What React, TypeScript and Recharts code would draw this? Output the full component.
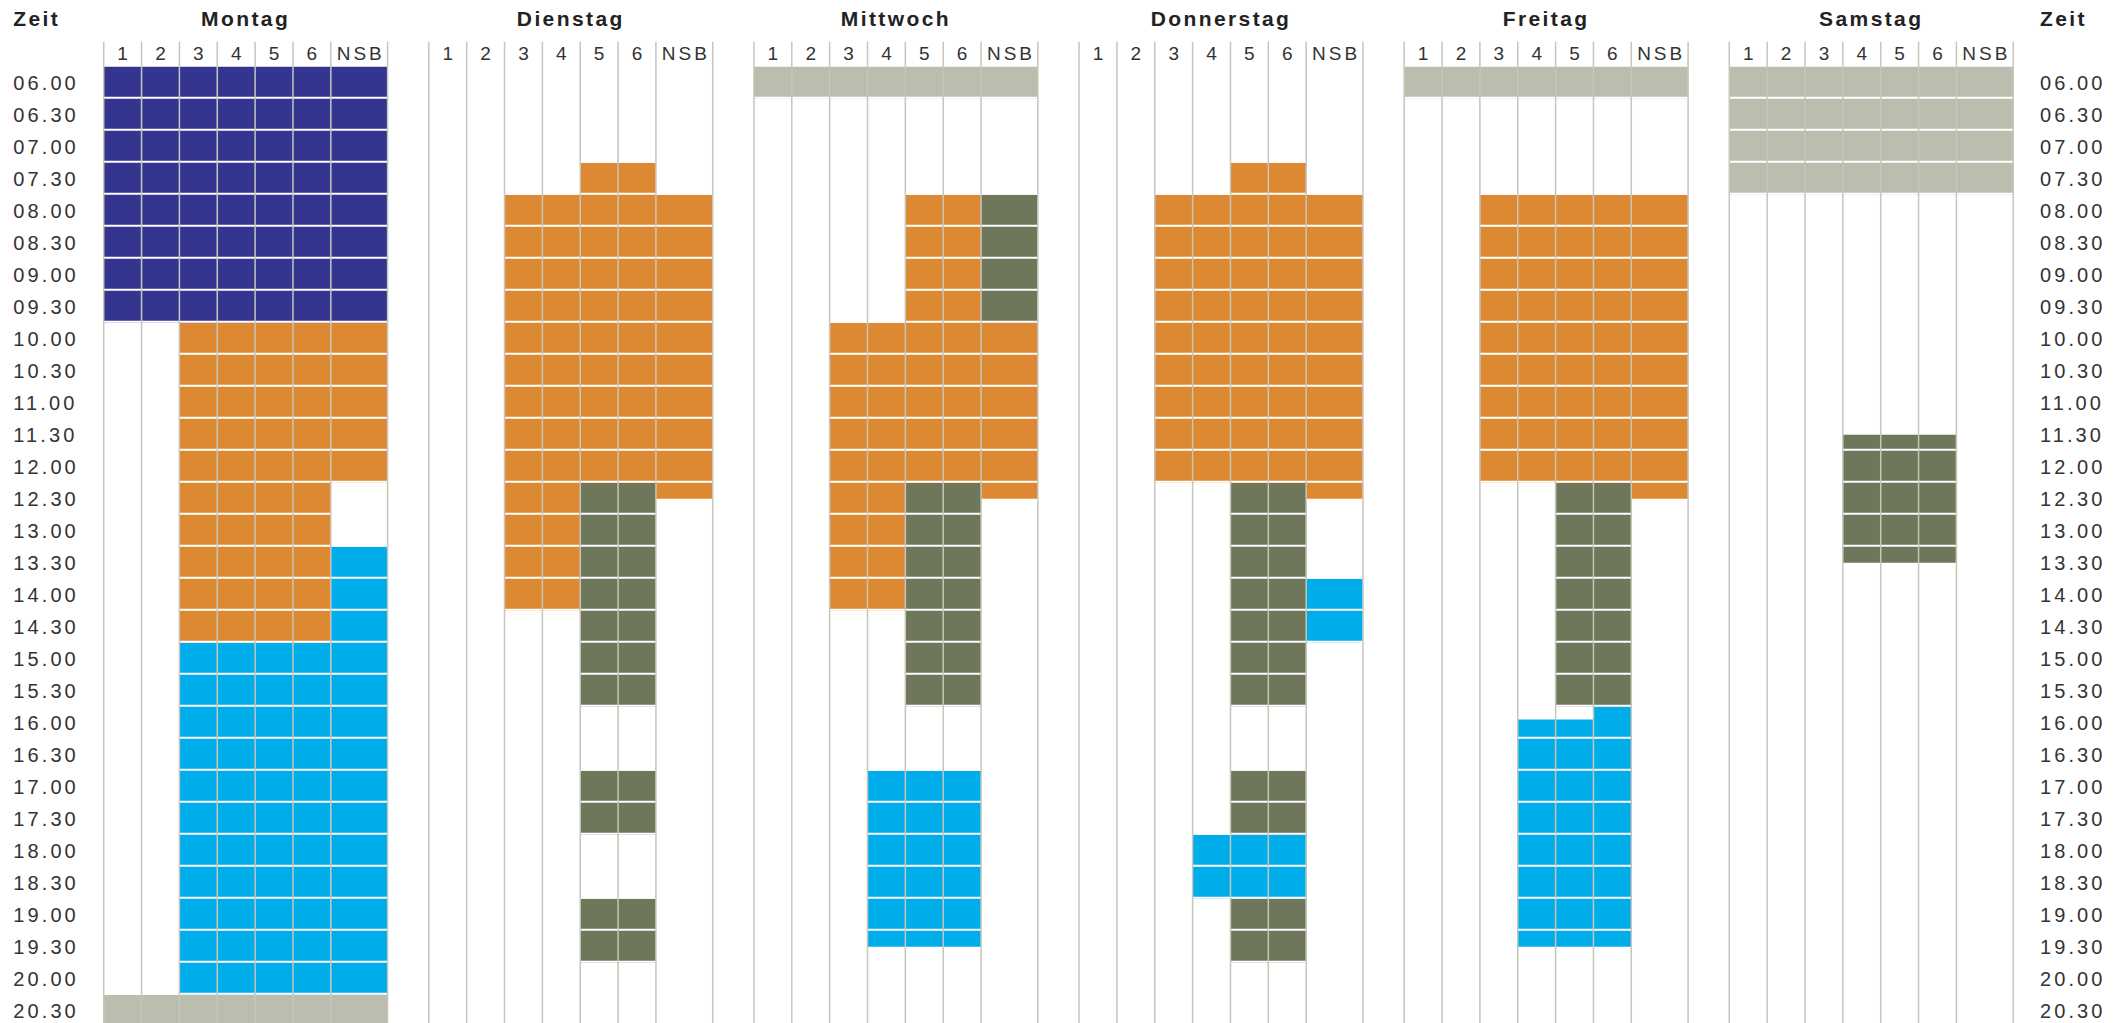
import React from 'react';
import { ComposedChart, XAxis, YAxis, ReferenceArea, ReferenceLine } from 'recharts';

// ---------- data ----------
const days = ['Montag', 'Dienstag', 'Mittwoch', 'Donnerstag', 'Freitag', 'Samstag'];
const columns = ['1', '2', '3', '4', '5', '6', 'NSB'];
const timeLabels = [
  '06.00', '06.30', '07.00', '07.30', '08.00', '08.30', '09.00', '09.30', '10.00', '10.30',
  '11.00', '11.30', '12.00', '12.30', '13.00', '13.30', '14.00', '14.30', '15.00', '15.30',
  '16.00', '16.30', '17.00', '17.30', '18.00', '18.30', '19.00', '19.30', '20.00', '20.30',
];
const axisTitle = 'Zeit';

type Kind = 'navy' | 'orange' | 'green' | 'cyan' | 'grey';
// [first column index, last column index, start hour, end hour, kind]
type Block = [number, number, number, number, Kind];

const montag: Block[] = [
  [0, 6, 6, 10, 'navy'],
  [2, 5, 10, 15, 'orange'],
  [6, 6, 10, 12.5, 'orange'],
  [6, 6, 13.5, 20.5, 'cyan'],
  [2, 5, 15, 20.5, 'cyan'],
  [0, 6, 20.5, 21, 'grey'],
];
const dienstag: Block[] = [
  [4, 5, 7.5, 12.5, 'orange'],
  [2, 3, 8, 14.5, 'orange'],
  [6, 6, 8, 12.75, 'orange'],
  [4, 5, 12.5, 16, 'green'],
  [4, 5, 17, 18, 'green'],
  [4, 5, 19, 20, 'green'],
];
const mittwoch: Block[] = [
  [0, 6, 6, 6.5, 'grey'],
  [4, 5, 8, 12.5, 'orange'],
  [6, 6, 8, 10, 'green'],
  [2, 3, 10, 14.5, 'orange'],
  [6, 6, 10, 12.75, 'orange'],
  [4, 5, 12.5, 16, 'green'],
  [3, 5, 17, 19.75, 'cyan'],
];
const donnerstag: Block[] = [
  [4, 5, 7.5, 12.5, 'orange'],
  [2, 3, 8, 12.5, 'orange'],
  [6, 6, 8, 12.75, 'orange'],
  [4, 5, 12.5, 16, 'green'],
  [6, 6, 14, 15, 'cyan'],
  [4, 5, 17, 18, 'green'],
  [3, 5, 18, 19, 'cyan'],
  [4, 5, 19, 20, 'green'],
];
const freitag: Block[] = [
  [0, 6, 6, 6.5, 'grey'],
  [2, 5, 8, 12.5, 'orange'],
  [6, 6, 8, 12.75, 'orange'],
  [4, 5, 12.5, 16, 'green'],
  [5, 5, 16, 19.75, 'cyan'],
  [3, 4, 16.2, 19.75, 'cyan'],
];
const samstag: Block[] = [
  [0, 6, 6, 8, 'grey'],
  [3, 5, 11.75, 13.75, 'green'],
];
const schedule: Block[][] = [montag, dienstag, mittwoch, donnerstag, freitag, samstag];

// ---------- style / layout ----------
const palette: Record<Kind, string> = {
  navy: '#34358F',
  orange: '#DD8832',
  green: '#6E7759',
  cyan: '#00ADEB',
  grey: '#BBBDAF',
};
const GRID = '#C6C6BB';
const FONT = '"Liberation Sans", Arial, Helvetica, sans-serif';

const W = 2123;
const H = 1030;
const LEFT_W = 103.7;
const RIGHT_W = 109.8;
const TOP_H = 41.7;
const BOTTOM_M = 3.3;

const COL_W = 1;
const NSB_W = 1.5;
const DAY_GAP = 1.089;
const colWidths = columns.map((c) => (c === 'NSB' ? NSB_W : COL_W));
const colEdges = colWidths.reduce<number[]>((acc, w) => [...acc, acc[acc.length - 1] + w], [0]);
const DAY_W = colEdges[colEdges.length - 1];
const DAY_STEP = DAY_W + DAY_GAP;
const X_MAX = DAY_STEP * (days.length - 1) + DAY_W;
const dayStart = (d: number) => d * DAY_STEP;

const toHours = (s: string) => {
  const [h, m] = s.split('.').map(Number);
  return h + m / 60;
};
const slots = timeLabels.map(toHours);
const SLOT = 0.5;
const Y_TOP = slots[0];
const Y_MAX = slots[slots.length - 1] + SLOT;
const HEADER_HOURS = 0.39; // header band above first row
const Y_MIN = Y_TOP - HEADER_HOURS;
const GAP_H = 1 / 64;

const slotCenters = slots.map((s) => s + SLOT / 2);
const dayCenters = days.map((_, d) => dayStart(d) + DAY_W / 2);
const colCenters: number[] = [];
const colLabelList: string[] = [];
days.forEach((_, d) => {
  columns.forEach((c, i) => {
    colCenters.push(dayStart(d) + (colEdges[i] + colEdges[i + 1]) / 2);
    colLabelList.push(c);
  });
});
const vLines: number[] = [];
days.forEach((_, d) => colEdges.forEach((e) => vLines.push(dayStart(d) + e)));
const hGaps = slots.slice(1).concat([Y_MAX]);

const rows = timeLabels.map((label, i) => ({ label, x: colCenters[i % colCenters.length], t: slotCenters[i] }));

// ---------- ticks ----------
const DayTick = (p: any) => {
  const i = dayCenters.indexOf(p.payload?.value);
  return (
    <text x={p.x} y={p.y - 16} textAnchor="middle" fontFamily={FONT} fontSize={21} fontWeight={700}
      letterSpacing={2.4} fill="#222">
      {days[i]}
    </text>
  );
};
const ColTick = (p: any) => {
  const i = colCenters.indexOf(p.payload?.value);
  return (
    <text x={p.x + 1.5} y={p.y + 18.5} textAnchor="middle" fontFamily={FONT} fontSize={19}
      letterSpacing={3} fill="#333">
      {colLabelList[i]}
    </text>
  );
};
const LeftTimeTick = (p: any) => {
  const i = slotCenters.indexOf(p.payload?.value);
  return (
    <text x={p.x - 90.4} y={p.y + 7} textAnchor="start" fontFamily={FONT} fontSize={20}
      letterSpacing={3.1} fill="#333">
      {timeLabels[i]}
    </text>
  );
};
const RightTimeTick = (p: any) => {
  const i = slotCenters.indexOf(p.payload?.value);
  return (
    <text x={p.x + 26.8} y={p.y + 7} textAnchor="start" fontFamily={FONT} fontSize={20}
      letterSpacing={3.1} fill="#333">
      {timeLabels[i]}
    </text>
  );
};
const ZeitLabel = (side: 'left' | 'right') => (p: any) => {
  const vb = p.viewBox || {};
  const x = side === 'left' ? vb.x + 13.3 : vb.x + 26.8;
  return (
    <text x={x} y={vb.y - 15.7} textAnchor="start" fontFamily={FONT} fontSize={21} fontWeight={700}
      letterSpacing={2.4} fill="#222">
      {axisTitle}
    </text>
  );
};

export default function App() {
  return (
    <div style={{ position: 'fixed', left: 0, top: 0, width: W, height: 1023, overflow: 'hidden', background: '#fff' }}>
      <ComposedChart width={W} height={H} data={rows} margin={{ top: 0, right: 0, bottom: BOTTOM_M, left: 0 }}>
        <XAxis xAxisId="days" dataKey="x" type="number" orientation="top" domain={[0, X_MAX]} ticks={dayCenters}
          height={TOP_H} axisLine={false} tickLine={false} tickSize={0} tickMargin={0}
          tick={<DayTick />} interval={0} allowDataOverflow />
        <XAxis xAxisId="cols" dataKey="x" type="number" orientation="top" mirror domain={[0, X_MAX]} ticks={colCenters}
          height={TOP_H} axisLine={false} tickLine={false} tickSize={0} tickMargin={0}
          tick={<ColTick />} interval={0} allowDataOverflow />
        <YAxis yAxisId="L" dataKey="t" type="number" orientation="left" reversed domain={[Y_MIN, Y_MAX]} ticks={slotCenters}
          width={LEFT_W} axisLine={false} tickLine={false} tickSize={0} tickMargin={0} interval={0}
          tick={<LeftTimeTick />} allowDataOverflow label={{ value: axisTitle, content: ZeitLabel('left') }} />
        <YAxis yAxisId="R" dataKey="t" type="number" orientation="right" reversed domain={[Y_MIN, Y_MAX]} ticks={slotCenters}
          width={RIGHT_W} axisLine={false} tickLine={false} tickSize={0} tickMargin={0} interval={0}
          tick={<RightTimeTick />} allowDataOverflow label={{ value: axisTitle, content: ZeitLabel('right') }} />

        {schedule.flatMap((blocks, d) =>
          blocks.map(([c0, c1, from, to, kind], k) => (
            <ReferenceArea key={`a-${d}-${k}`} xAxisId="days" yAxisId="L"
              x1={dayStart(d) + colEdges[c0]} x2={dayStart(d) + colEdges[c1 + 1]}
              y1={from} y2={to} fill={palette[kind]} fillOpacity={1} stroke="none" ifOverflow="visible" />
          ))
        )}

        {hGaps.map((t, k) => (
          <ReferenceLine key={`h-${k}`} xAxisId="days" yAxisId="L" y={t - GAP_H} stroke="#fff" strokeWidth={2}
            ifOverflow="visible" />
        ))}

        {vLines.map((x, k) => (
          <ReferenceLine key={`v-${k}`} xAxisId="days" yAxisId="L" x={x} stroke={GRID} strokeWidth={1.5}
            ifOverflow="visible" />
        ))}
      </ComposedChart>
    </div>
  );
}
